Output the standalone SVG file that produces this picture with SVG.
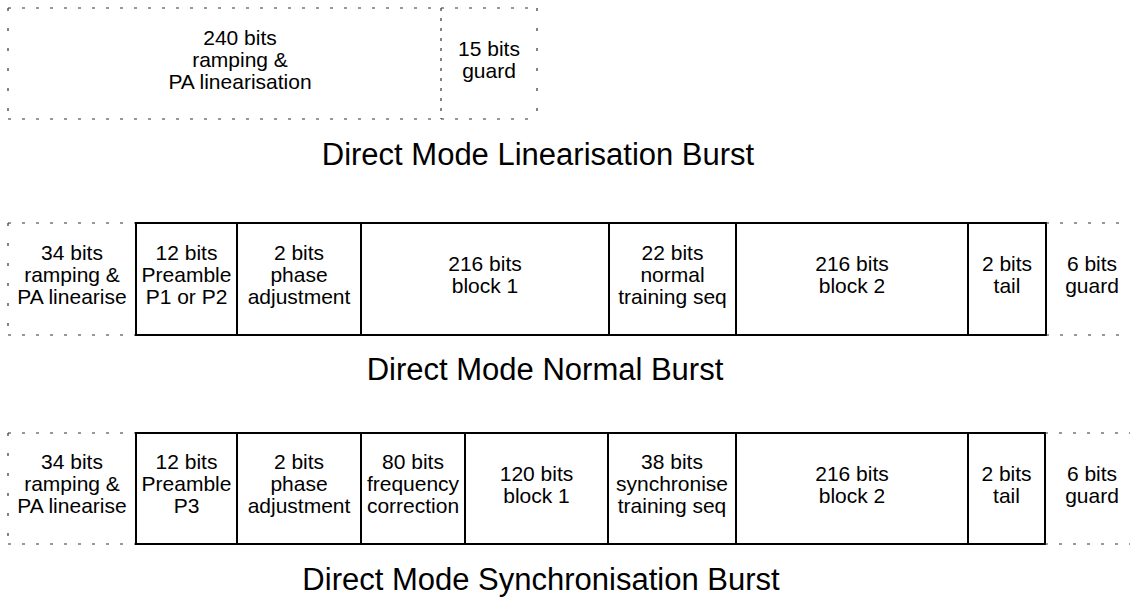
<svg xmlns="http://www.w3.org/2000/svg" width="1139" height="600" viewBox="0 0 1139 600">
  <style>
    .cell { fill: none; stroke: #000; stroke-width: 2; }
    .dh { stroke: #333; stroke-width: 1.2; stroke-dasharray: 3 11; fill: none; }
    .dv { stroke: #333; stroke-width: 1.2; stroke-dasharray: 3 17; fill: none; }
    .dvd { stroke: #333; stroke-width: 1.2; stroke-dasharray: 3 7; fill: none; }
    .lbl { font-family: "Liberation Sans", Arial, sans-serif; font-size: 21px; fill: #000; text-anchor: middle; }
    .title { font-family: "Liberation Sans", Arial, sans-serif; font-size: 31px; fill: #000; text-anchor: middle; }
  </style>
  <rect width="1139" height="600" fill="#fff"/>

  <!-- Linearisation burst -->
  <g id="lin-ramp">
    <line class="dh" x1="8" y1="8" x2="441" y2="8"/>
    <line class="dh" x1="8" y1="119" x2="441" y2="119"/>
    <line class="dv" x1="8" y1="8" x2="8" y2="119"/>
    <text class="lbl" x="240" y="45">240 bits</text>
    <text class="lbl" x="240" y="67">ramping &amp;</text>
    <text class="lbl" x="240" y="89">PA linearisation</text>
  </g>
  <g id="lin-guard">
    <line class="dh" x1="441" y1="8" x2="537" y2="8"/>
    <line class="dh" x1="441" y1="119" x2="537" y2="119"/>
    <line class="dvd" x1="441" y1="8" x2="441" y2="119"/>
    <line class="dv" x1="537" y1="8" x2="537" y2="119"/>
    <text class="lbl" x="489" y="56">15 bits</text>
    <text class="lbl" x="489" y="78">guard</text>
  </g>
  <text id="lin-title" class="title" x="538" y="165">Direct Mode Linearisation Burst</text>

  <!-- Normal burst -->
  <g id="nb-ramp">
    <line class="dh" x1="8" y1="223" x2="136" y2="223"/>
    <line class="dh" x1="8" y1="335" x2="136" y2="335"/>
    <line class="dv" x1="8" y1="223" x2="8" y2="335"/>
    <text class="lbl" x="72" y="260">34 bits</text>
    <text class="lbl" x="72" y="282">ramping &amp;</text>
    <text class="lbl" x="72" y="304">PA linearise</text>
  </g>
  <g id="nb-preamble">
    <rect class="cell" x="136" y="223" width="101" height="112"/>
    <text class="lbl" x="186.5" y="260">12 bits</text>
    <text class="lbl" x="186.5" y="282">Preamble</text>
    <text class="lbl" x="186.5" y="304">P1 or P2</text>
  </g>
  <g id="nb-phase">
    <rect class="cell" x="237" y="223" width="124" height="112"/>
    <text class="lbl" x="299" y="260">2 bits</text>
    <text class="lbl" x="299" y="282">phase</text>
    <text class="lbl" x="299" y="304">adjustment</text>
  </g>
  <g id="nb-block1">
    <rect class="cell" x="361" y="223" width="248" height="112"/>
    <text class="lbl" x="485" y="271">216 bits</text>
    <text class="lbl" x="485" y="293">block 1</text>
  </g>
  <g id="nb-training">
    <rect class="cell" x="609" y="223" width="127" height="112"/>
    <text class="lbl" x="672.5" y="260">22 bits</text>
    <text class="lbl" x="672.5" y="282">normal</text>
    <text class="lbl" x="672.5" y="304">training seq</text>
  </g>
  <g id="nb-block2">
    <rect class="cell" x="736" y="223" width="232" height="112"/>
    <text class="lbl" x="852" y="271">216 bits</text>
    <text class="lbl" x="852" y="293">block 2</text>
  </g>
  <g id="nb-tail">
    <rect class="cell" x="968" y="223" width="78" height="112"/>
    <text class="lbl" x="1007" y="271">2 bits</text>
    <text class="lbl" x="1007" y="293">tail</text>
  </g>
  <g id="nb-guard">
    <line class="dh" x1="1046" y1="223" x2="1130" y2="223"/>
    <line class="dh" x1="1046" y1="335" x2="1130" y2="335"/>
    <text class="lbl" x="1092" y="271">6 bits</text>
    <text class="lbl" x="1092" y="293">guard</text>
  </g>
  <text id="nb-title" class="title" x="545" y="380">Direct Mode Normal Burst</text>

  <!-- Synchronisation burst -->
  <g id="sb-ramp">
    <line class="dh" x1="8" y1="433" x2="136" y2="433"/>
    <line class="dh" x1="8" y1="544" x2="136" y2="544"/>
    <line class="dv" x1="8" y1="433" x2="8" y2="544"/>
    <text class="lbl" x="72" y="469">34 bits</text>
    <text class="lbl" x="72" y="491">ramping &amp;</text>
    <text class="lbl" x="72" y="513">PA linearise</text>
  </g>
  <g id="sb-preamble">
    <rect class="cell" x="136" y="433" width="101" height="111"/>
    <text class="lbl" x="186.5" y="469">12 bits</text>
    <text class="lbl" x="186.5" y="491">Preamble</text>
    <text class="lbl" x="186.5" y="513">P3</text>
  </g>
  <g id="sb-phase">
    <rect class="cell" x="237" y="433" width="124" height="111"/>
    <text class="lbl" x="299" y="469">2 bits</text>
    <text class="lbl" x="299" y="491">phase</text>
    <text class="lbl" x="299" y="513">adjustment</text>
  </g>
  <g id="sb-freq">
    <rect class="cell" x="361" y="433" width="104" height="111"/>
    <text class="lbl" x="413" y="469">80 bits</text>
    <text class="lbl" x="413" y="491">frequency</text>
    <text class="lbl" x="413" y="513">correction</text>
  </g>
  <g id="sb-block1">
    <rect class="cell" x="465" y="433" width="143" height="111"/>
    <text class="lbl" x="536.5" y="481">120 bits</text>
    <text class="lbl" x="536.5" y="503">block 1</text>
  </g>
  <g id="sb-training">
    <rect class="cell" x="608" y="433" width="128" height="111"/>
    <text class="lbl" x="672" y="469">38 bits</text>
    <text class="lbl" x="672" y="491">synchronise</text>
    <text class="lbl" x="672" y="513">training seq</text>
  </g>
  <g id="sb-block2">
    <rect class="cell" x="736" y="433" width="232" height="111"/>
    <text class="lbl" x="852" y="481">216 bits</text>
    <text class="lbl" x="852" y="503">block 2</text>
  </g>
  <g id="sb-tail">
    <rect class="cell" x="968" y="433" width="77" height="111"/>
    <text class="lbl" x="1006.5" y="481">2 bits</text>
    <text class="lbl" x="1006.5" y="503">tail</text>
  </g>
  <g id="sb-guard">
    <line class="dh" x1="1045" y1="433" x2="1130" y2="433"/>
    <line class="dh" x1="1045" y1="544" x2="1130" y2="544"/>
    <text class="lbl" x="1092" y="481">6 bits</text>
    <text class="lbl" x="1092" y="503">guard</text>
  </g>
  <text id="sb-title" class="title" x="541" y="590">Direct Mode Synchronisation Burst</text>
</svg>
